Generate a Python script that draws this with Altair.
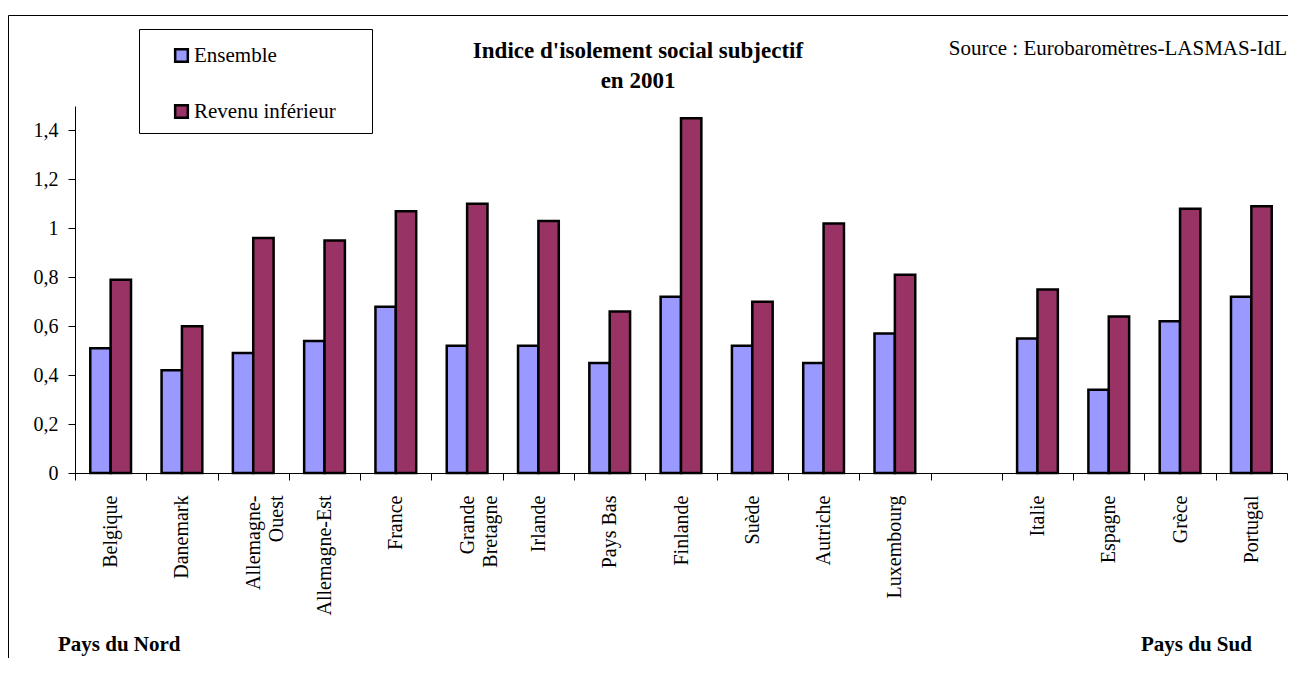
import altair as alt
import pandas as pd

# ---- data ----
categories = ["Belgique", "Danemark", "Allemagne-Ouest", "Allemagne-Est", "France",
              "Grande Bretagne", "Irlande", "Pays Bas", "Finlande", "Suède", "Autriche",
              "Luxembourg", " ", "Italie", "Espagne", "Grèce", "Portugal"]
countries = ["Belgique", "Danemark", "Allemagne-Ouest", "Allemagne-Est", "France",
             "Grande Bretagne", "Irlande", "Pays Bas", "Finlande", "Suède", "Autriche",
             "Luxembourg", "Italie", "Espagne", "Grèce", "Portugal"]
ensemble = [0.51, 0.42, 0.49, 0.54, 0.68, 0.52, 0.52, 0.45, 0.72, 0.52, 0.45, 0.57,
            0.55, 0.34, 0.62, 0.72]
revenu = [0.79, 0.60, 0.96, 0.95, 1.07, 1.10, 1.03, 0.66, 1.45, 0.70, 1.02, 0.81,
          0.75, 0.64, 1.08, 1.09]
series = ["Ensemble", "Revenu inférieur"]
colors = ["#9999FF", "#993366"]
y_ticks = [0, 0.2, 0.4, 0.6, 0.8, 1.0, 1.2, 1.4]

title_lines = ["Indice d'isolement social subjectif", "en 2001"]
source_text = "Source : Eurobaromètres-LASMAS-IdL"
nord_text = "Pays du Nord"
sud_text = "Pays du Sud"

FONT = "Liberation Serif"

rows = []
for c, e, r in zip(countries, ensemble, revenu):
    rows.append({"pays": c, "serie": series[0], "valeur": e})
    rows.append({"pays": c, "serie": series[1], "valeur": r})
df = pd.DataFrame(rows)

one = pd.DataFrame({"k": [0]})

label_expr = ("datum.label == 'Allemagne-Ouest' ? ['Allemagne-', 'Ouest'] : "
              "datum.label == 'Grande Bretagne' ? ['Grande', 'Bretagne'] : datum.label")

bars = alt.Chart(df).mark_bar(stroke="black", strokeWidth=2.5).encode(
    x=alt.X("pays:N", sort=categories,
            scale=alt.Scale(domain=categories, paddingInner=0, paddingOuter=0),
            axis=alt.Axis(title=None, labelAngle=-90, labelExpr=label_expr,
                          tickBand="extent", tickSize=7, labelPadding=15,
                          labelLineHeight=23, labelFontSize=20)),
    xOffset=alt.XOffset("serie:N", sort=series,
                        scale=alt.Scale(domain=series, paddingInner=0, paddingOuter=0.75)),
    y=alt.Y("valeur:Q", scale=alt.Scale(domain=[0, 1.5], nice=False),
            axis=alt.Axis(title=None, values=y_ticks, tickSize=7, labelPadding=10,
                          labelFontSize=20,
                          labelExpr="replace(format(datum.value, '.1~f'), '.', ',')")),
    color=alt.Color("serie:N", sort=series,
                    scale=alt.Scale(domain=series, range=colors),
                    legend=alt.Legend(orient="none", legendX=80, legendY=-77, title=None,
                                      direction="vertical", padding=16,
                                      symbolType="square", symbolSize=160,
                                      symbolStrokeColor="black", symbolStrokeWidth=2.5,
                                      symbolOffset=0, labelOffset=2,
                                      labelFont=FONT, labelFontSize=21,
                                      labelColor="black", rowPadding=33, labelLimit=400)),
)

frame = alt.Chart(one).mark_rect(fillOpacity=0, stroke="black", strokeWidth=1).encode(
    x=alt.value(-66.5), x2=alt.value(3000), y=alt.value(-90.5), y2=alt.value(3000)
)

legend_box = alt.Chart(one).mark_rect(fill="white", stroke="black", strokeWidth=1).encode(
    x=alt.value(64.5), x2=alt.value(297.5), y=alt.value(-76.5), y2=alt.value(27.5)
)

title = alt.Chart(one).mark_text(text=title_lines, font=FONT, fontSize=23, fontWeight="bold",
                                 align="center", baseline="alphabetic", lineHeight=30,
                                 color="black").encode(
    x=alt.value(563), y=alt.value(-48))

source = alt.Chart(one).mark_text(text=source_text, font=FONT, fontSize=21, align="right",
                                  baseline="alphabetic", color="black").encode(
    x=alt.value(1212), y=alt.value(-51))

nord = alt.Chart(one).mark_text(text=nord_text, font=FONT, fontSize=21, fontWeight="bold",
                                align="left", baseline="alphabetic", color="black").encode(
    x=alt.value(-17), y=alt.value(545))

sud = alt.Chart(one).mark_text(text=sud_text, font=FONT, fontSize=21, fontWeight="bold",
                               align="left", baseline="alphabetic", color="black").encode(
    x=alt.value(1066), y=alt.value(545))

chart = alt.layer(frame, legend_box, bars, title, source, nord, sud).properties(
    width=1212, height=367,
    autosize=alt.AutoSizeParams(type="none"),
    padding={"left": 67, "top": 98, "right": 1, "bottom": 185},
).configure_axis(
    domainColor="black", tickColor="black", labelColor="black", labelFont=FONT,
    grid=False, domainWidth=1, tickWidth=1
).configure_view(stroke=None)

chart.save("out.html", embed_options={"renderer": "svg", "actions": False})
